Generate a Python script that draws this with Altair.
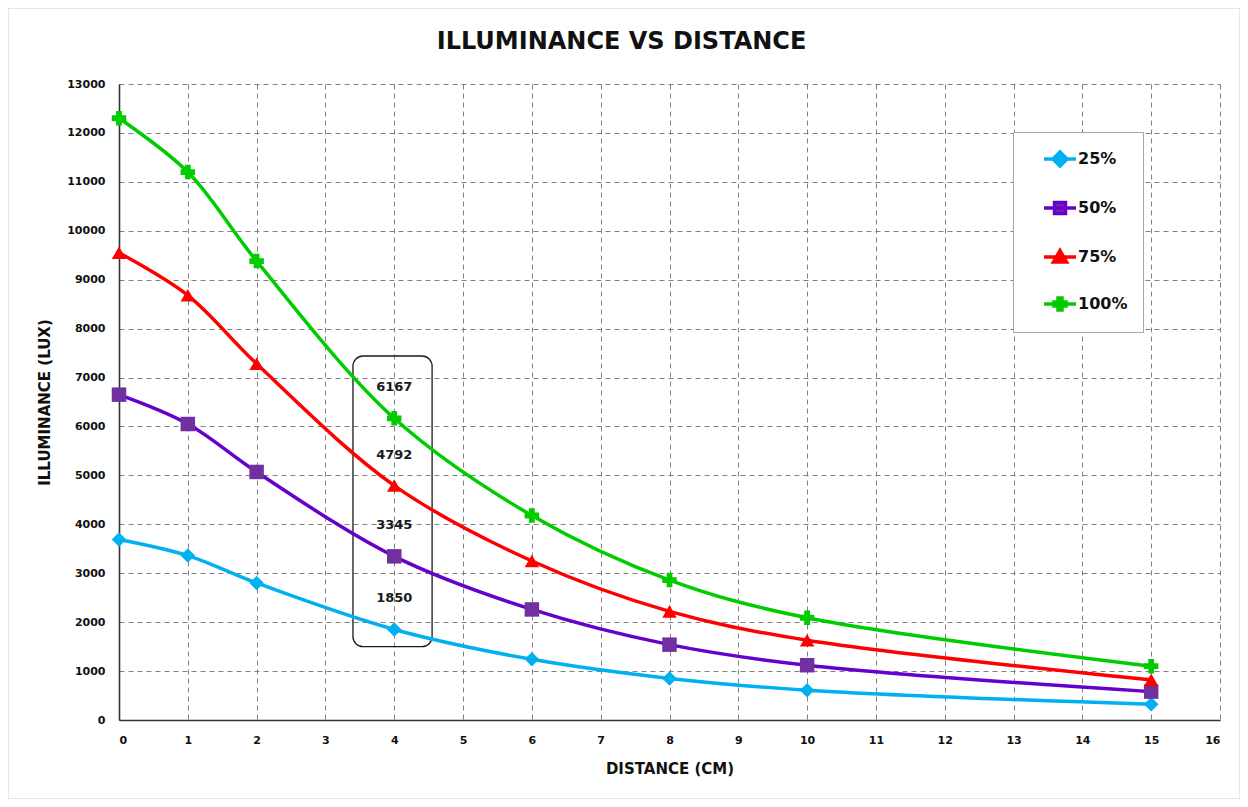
import altair as alt
import pandas as pd

# ---- data ----
distance = [0, 1, 2, 4, 6, 8, 10, 15]
lux_25 = [3690, 3360, 2800, 1850, 1240, 850, 610, 320]
lux_50 = [6650, 6050, 5070, 3345, 2260, 1540, 1120, 580]
lux_75 = [9550, 8680, 7280, 4792, 3250, 2220, 1630, 820]
lux_100 = [12300, 11200, 9380, 6167, 4180, 2860, 2090, 1100]
series_names = ["25%", "50%", "75%", "100%"]

# annotation box (data units)
box_x = [3.4, 4.55]
box_y = [1500, 7440]
annot_distance = 4

# ---- styles ----
line_colors = ["#00B0F0", "#6600CC", "#FF0000", "#00CC00"]
marker_colors = ["#00B0F0", "#7030A0", "#FF0000", "#00CC00"]
marker_shapes = ["diamond", "square", "triangle-up", "cross"]
legend_shapes = [
    "M-1.6,0L1.6,0M0,-0.7L0.7,0L0,0.7L-0.7,0Z",
    "M-1.6,0L1.6,0M-0.55,-0.55L0.55,-0.55L0.55,0.55L-0.55,0.55Z",
    "M-1.6,0L1.6,0M0,-0.65L0.65,0.5L-0.65,0.5Z",
    "M-1.6,0L1.6,0M-0.2,-0.6L0.2,-0.6L0.2,-0.2L0.6,-0.2L0.6,0.2L0.2,0.2L0.2,0.6L-0.2,0.6L-0.2,0.2L-0.6,0.2L-0.6,-0.2L-0.2,-0.2Z",
]

values = [lux_25, lux_50, lux_75, lux_100]
rows = []
for i, name in enumerate(series_names):
    for d, v in zip(distance, values[i]):
        rows.append({
            "distance": d, "lux": v, "series": name, "order": i,
            "lcolor": line_colors[i], "mcolor": marker_colors[i], "mshape": marker_shapes[i],
        })
df = pd.DataFrame(rows)
box_df = pd.DataFrame({"x": [box_x[0]], "x2": [box_x[1]], "y": [box_y[0]], "y2": [box_y[1]]})

FONT = "DejaVu Sans"
W, H = 1101, 636

x_enc = alt.X("distance:Q", scale=alt.Scale(domain=[0, 16], nice=False),
              axis=alt.Axis(title="DISTANCE (CM)", values=list(range(0, 17)), format="d"))
y_enc = alt.Y("lux:Q", scale=alt.Scale(domain=[0, 13000], nice=False),
              axis=alt.Axis(title="ILLUMINANCE (LUX)", values=list(range(0, 13001, 1000)), format="d"))

base = alt.Chart(df)

lines = base.mark_line(interpolate="catmull-rom", strokeWidth=3.5).encode(
    x=x_enc, y=y_enc,
    color=alt.Color("lcolor:N", scale=None),
    detail="series:N",
)

points = base.mark_point(filled=True, size=210, opacity=1).encode(
    x="distance:Q", y="lux:Q",
    fill=alt.Fill("mcolor:N", scale=None),
    shape=alt.Shape("mshape:N", scale=None),
)

legend_layer = base.transform_filter("false").mark_point(
    filled=True, size=400, strokeWidth=3.5, opacity=1
).encode(
    x="distance:Q", y="lux:Q",
    shape=alt.Shape("series:N", scale=alt.Scale(domain=series_names, range=legend_shapes),
                    legend=alt.Legend(title=None)),
    fill=alt.Fill("series:N", scale=alt.Scale(domain=series_names, range=marker_colors),
                  legend=alt.Legend(title=None)),
    stroke=alt.Stroke("series:N", scale=alt.Scale(domain=series_names, range=line_colors),
                      legend=alt.Legend(title=None)),
)

labels = base.transform_filter(alt.datum.distance == annot_distance).mark_text(
    font=FONT, fontWeight="bold", fontSize=13, color="#1a1a1a", dy=-31
).encode(x="distance:Q", y="lux:Q", text=alt.Text("lux:Q", format="d"))

box = alt.Chart(box_df).mark_rect(
    filled=False, stroke="#1a1a1a", strokeWidth=1.3, cornerRadius=10
).encode(x="x:Q", x2="x2:Q", y="y:Q", y2="y2:Q")

frame = alt.Chart(box_df).mark_rect(
    filled=False, stroke="#d0d0d0", strokeWidth=1
).encode(x=alt.value(-111), x2=alt.value(W + 20), y=alt.value(-76), y2=alt.value(H + 79))

chart = alt.layer(frame, box, lines, points, legend_layer, labels).properties(
    width=W, height=H,
    title=alt.TitleParams("ILLUMINANCE VS DISTANCE", font=FONT, fontSize=24, fontWeight="bold",
                          color="#111111", anchor="middle", dx=-48, offset=0, dy=46),
    autosize=alt.AutoSizeParams(type="none"),
    padding={"left": 111, "top": 76, "right": 20, "bottom": 79},
).configure_view(stroke=None).configure_axis(
    labelFont=FONT, labelFontWeight="bold", labelFontSize=11, labelColor="#111111",
    titleFont=FONT, titleFontWeight="bold", titleFontSize=15, titleColor="#111111",
    gridDash=[5, 4], gridColor="#808080", gridWidth=1, gridOpacity=1,
    domainColor="#333333", domainWidth=1.6, ticks=False,
).configure_axisX(labelPadding=14, titlePadding=16).configure_axisY(
    labelPadding=14, titlePadding=14
).configure_legend(
    orient="none", legendX=894, legendY=48, padding=15, symbolOffset=20, rowPadding=22,
    labelFont=FONT, labelFontSize=16, labelFontWeight="bold", labelColor="#111111",
    labelOffset=6, fillColor="white", strokeColor="#a6a6a6", symbolSize=400,
    symbolStrokeWidth=3.5,
)

chart.save("out.html", embed_options={"renderer": "svg", "actions": False})
